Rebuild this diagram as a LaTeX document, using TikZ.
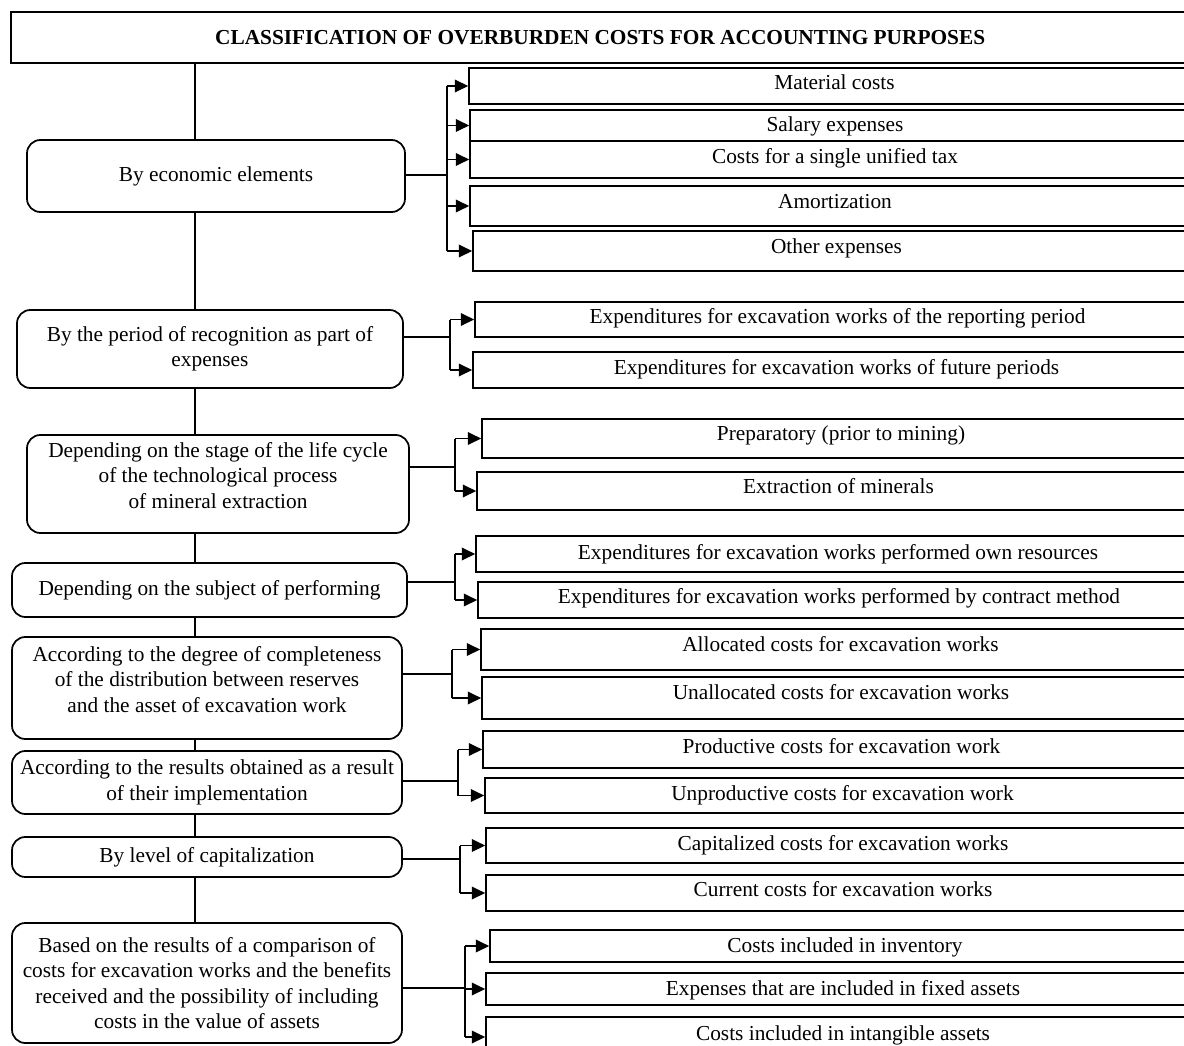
\documentclass[tikz,border=0pt]{standalone}
\usepackage{fontspec}
\setmainfont{Liberation Serif}
\usetikzlibrary{fit,arrows.meta}
\tikzset{
  lb/.style={draw, line width=1.3pt, rounded corners=10pt, inner sep=0pt, align=center, font=\fontsize{16}{19}\selectfont},
  tb/.style={draw, line width=1.3pt, inner sep=0pt, font=\bfseries\fontsize{16}{19}\selectfont},
  rb/.style={draw, line width=1.3pt, inner sep=0pt},
  tx/.style={anchor=base, inner sep=0pt, font=\fontsize{16}{19}\selectfont},
  ln/.style={line width=1.1pt},
  ar/.style={line width=1.1pt, -{Triangle[length=10pt,width=9.5pt]}},
}
% box from corners (x1,y1)-(x2,y2) in px units, with centred text
\newcommand\cornerbox[7]{%
  \pgfmathsetmacro\bxa{(#3+#5)/2}%
  \pgfmathsetmacro\bxb{(#4+#6)/2}%
  \pgfmathsetmacro\bxw{(#5-#3)*0.75}%
  \pgfmathsetmacro\bxh{(#6-#4)*0.75}%
  \node[#1, minimum width=\bxw pt, minimum height=\bxh pt] (#2) at (\bxa,\bxb) {#7};}
\newcommand\rgtbox[6]{%
  \cornerbox{rb}{#1}{#2}{#3}{1200}{#4}{}
  \node[tx] (#1t) at (#1.center |- 0,#5) {#6};}
\begin{document}
\begin{tikzpicture}[x=0.75pt,y=-0.75pt]
\fill[white] (0,0) rectangle (1184,1045);
\useasboundingbox (0,0) rectangle (1184,1045);

% title
\cornerbox{tb}{title}{11}{12}{1200}{63}{\hspace*{-8pt}CLASSIFICATION OF OVERBURDEN COSTS FOR ACCOUNTING PURPOSES}

% left boxes
\cornerbox{lb}{l1}{27}{140}{405}{212}{By economic elements}
\cornerbox{lb}{l2}{17}{310}{403}{388}{By the period of recognition as part of\\expenses}
\cornerbox{lb}{l3}{27}{435}{409}{533}{Depending on the stage of the life cycle\\of the technological process\\of mineral extraction\\[-6pt]}
\cornerbox{lb}{l4}{12}{563}{407}{617}{Depending on the subject of performing}
\cornerbox{lb}{l5}{12}{637}{402}{739}{According to the degree of completeness\\of the distribution between reserves\\and the asset of excavation work\\[-6pt]}
\cornerbox{lb}{l6}{12}{751}{402}{814}{According to the results obtained as a result\\of their implementation}
\cornerbox{lb}{l7}{12}{837}{402}{877}{By level of capitalization}
\cornerbox{lb}{l8}{12}{923}{402}{1043}{Based on the results of a comparison of\\costs for excavation works and the benefits\\received and the possibility of including\\costs in the value of assets}

% spine
\coordinate (sp) at (195,0);
\draw[ln] (title.south -| sp) -- (l1.north -| sp);
\draw[ln] (l1.south -| sp) -- (l2.north -| sp);
\draw[ln] (l2.south -| sp) -- (l3.north -| sp);
\draw[ln] (l3.south -| sp) -- (l4.north -| sp);
\draw[ln] (l4.south -| sp) -- (l5.north -| sp);
\draw[ln] (l5.south -| sp) -- (l6.north -| sp);
\draw[ln] (l6.south -| sp) -- (l7.north -| sp);
\draw[ln] (l7.south -| sp) -- (l8.north -| sp);

% right boxes
\rgtbox{r11}{469}{68}{104}{90}{Material costs}
\rgtbox{r12}{470}{110}{141}{132}{Salary expenses}
\rgtbox{r13}{470}{141}{178}{163}{Costs for a single unified tax}
\rgtbox{r14}{470}{186}{226}{208}{Amortization}
\rgtbox{r15}{473}{231}{271}{253}{Other expenses}

\rgtbox{r21}{475}{302}{337}{323}{Expenditures for excavation works of the reporting period}
\rgtbox{r22}{473}{352}{388}{374}{Expenditures for excavation works of future periods}

\rgtbox{r31}{482}{419}{458}{440}{Preparatory (prior to mining)}
\rgtbox{r32}{477}{472}{510}{493}{Extraction of minerals}

\rgtbox{r41}{476}{536}{572}{559}{Expenditures for excavation works performed own resources}
\rgtbox{r42}{478}{582}{618}{603}{Expenditures for excavation works performed by contract method}

\rgtbox{r51}{481}{629}{670}{651}{Allocated costs for excavation works}
\rgtbox{r52}{482}{677}{719}{699}{Unallocated costs for excavation works}

\rgtbox{r61}{483}{731}{768}{753}{Productive costs for excavation work}
\rgtbox{r62}{485}{778}{813}{800}{Unproductive costs for excavation work}

\rgtbox{r71}{486}{828}{863}{850}{Capitalized costs for excavation works}
\rgtbox{r72}{486}{875}{911}{896}{Current costs for excavation works}

\rgtbox{r81}{490}{930}{962}{952}{Costs included in inventory}
\rgtbox{r82}{486}{973}{1005}{995}{Expenses that are included in fixed assets}
\rgtbox{r83}{486}{1017}{1060}{1040}{Costs included in intangible assets}

% group 1
\coordinate (b1) at (447,175);
\draw[ln] (l1.east |- b1) -- (b1);
\draw[ln] (b1 |- r11.west) -- (b1 |- r15.west);
\foreach \r in {r11,r12,r13,r14,r15} \draw[ar] (b1 |- \r.west) -- (\r.west);

% group 2
\coordinate (b2) at (450,337);
\draw[ln] (l2.east |- b2) -- (b2);
\draw[ln] (b2 |- r21.west) -- (b2 |- r22.west);
\foreach \r in {r21,r22} \draw[ar] (b2 |- \r.west) -- (\r.west);

% group 3
\coordinate (b3) at (455,467);
\draw[ln] (l3.east |- b3) -- (b3);
\draw[ln] (b3 |- r31.west) -- (b3 |- r32.west);
\foreach \r in {r31,r32} \draw[ar] (b3 |- \r.west) -- (\r.west);

% group 4
\coordinate (b4) at (455,582);
\draw[ln] (l4.east |- b4) -- (b4);
\draw[ln] (b4 |- r41.west) -- (b4 |- r42.west);
\foreach \r in {r41,r42} \draw[ar] (b4 |- \r.west) -- (\r.west);

% group 5
\coordinate (b5) at (452,674);
\draw[ln] (l5.east |- b5) -- (b5);
\draw[ln] (b5 |- r51.west) -- (b5 |- r52.west);
\foreach \r in {r51,r52} \draw[ar] (b5 |- \r.west) -- (\r.west);

% group 6
\coordinate (b6) at (458,781);
\draw[ln] (l6.east |- b6) -- (b6);
\draw[ln] (b6 |- r61.west) -- (b6 |- r62.west);
\foreach \r in {r61,r62} \draw[ar] (b6 |- \r.west) -- (\r.west);

% group 7
\coordinate (b7) at (460,859);
\draw[ln] (l7.east |- b7) -- (b7);
\draw[ln] (b7 |- r71.west) -- (b7 |- r72.west);
\foreach \r in {r71,r72} \draw[ar] (b7 |- \r.west) -- (\r.west);

% group 8
\coordinate (b8) at (465,988);
\draw[ln] (l8.east |- b8) -- (b8);
\draw[ln] (b8 |- r81.west) -- (b8 |- 0,1037);
\foreach \r in {r81,r82} \draw[ar] (b8 |- \r.west) -- (\r.west);
\draw[ar] (b8 |- 0,1037) -- (r83.west |- 0,1037);
\end{tikzpicture}
\end{document}
